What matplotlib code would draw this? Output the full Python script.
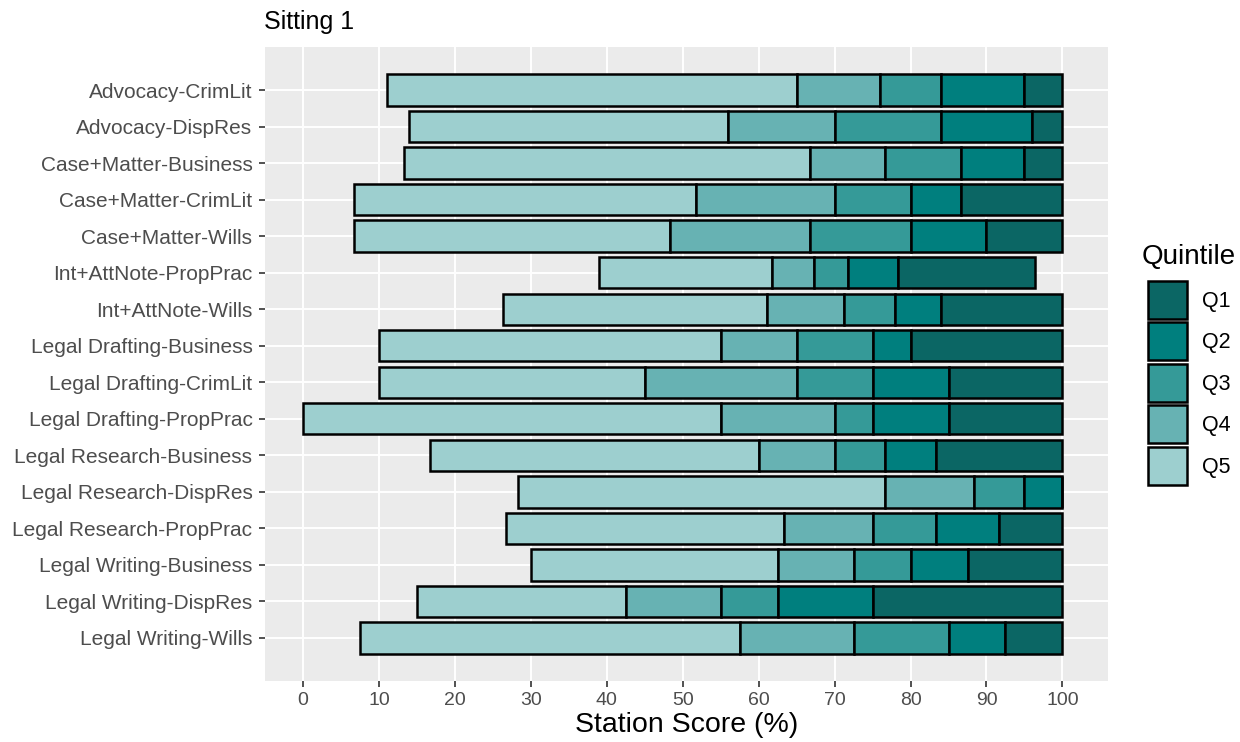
import numpy as np
from matplotlib import pyplot as plt
from matplotlib.patches import Patch

plt.rcParams["font.family"] = ["Liberation Sans", "DejaVu Sans"]

stations = [
    "Advocacy-CrimLit",
    "Advocacy-DispRes",
    "Case+Matter-Business",
    "Case+Matter-CrimLit",
    "Case+Matter-Wills",
    "Int+AttNote-PropPrac",
    "Int+AttNote-Wills",
    "Legal Drafting-Business",
    "Legal Drafting-CrimLit",
    "Legal Drafting-PropPrac",
    "Legal Research-Business",
    "Legal Research-DispRes",
    "Legal Research-PropPrac",
    "Legal Writing-Business",
    "Legal Writing-DispRes",
    "Legal Writing-Wills",
]

# quintile boundaries per station (min, Q5 top, Q4 top, Q3 top, Q2 top, max)
score_min = [11.0, 14.0, 13.3, 6.7, 6.7, 39.0, 26.3, 10.0, 10.0, 0.0, 16.7, 28.3, 26.7, 30.0, 15.0, 7.5]
q5_top = [65.0, 56.0, 66.7, 51.7, 48.3, 61.7, 61.1, 55.0, 45.0, 55.0, 60.0, 76.7, 63.3, 62.5, 42.5, 57.5]
q4_top = [76.0, 70.0, 76.7, 70.0, 66.7, 67.3, 71.3, 65.0, 65.0, 70.0, 70.0, 88.3, 75.0, 72.5, 55.0, 72.5]
q3_top = [84.0, 84.0, 86.7, 80.0, 80.0, 71.7, 78.0, 75.0, 75.0, 75.0, 76.7, 95.0, 83.3, 80.0, 62.5, 85.0]
q2_top = [95.0, 96.0, 95.0, 86.7, 90.0, 78.3, 84.0, 80.0, 85.0, 85.0, 83.3, 100.0, 91.7, 87.5, 75.0, 92.5]
score_max = [100.0, 100.0, 100.0, 100.0, 100.0, 96.4, 100.0, 100.0, 100.0, 100.0, 100.0, 100.0, 100.0, 100.0, 100.0, 100.0]

quintiles = ["Q1", "Q2", "Q3", "Q4", "Q5"]
colors = {"Q1": "#0b6664", "Q2": "#007f7e", "Q3": "#359a98", "Q4": "#67b2b3", "Q5": "#9dcfcf"}

W, H = 1240, 742
fig = plt.figure(figsize=(W / 100, H / 100), dpi=100)
ax = fig.add_axes([265 / W, 1 - 681 / H, (1108 - 265) / W, (681 - 47) / H])
ax.set_facecolor("#ebebeb")

y = np.arange(len(stations))
bounds = [score_min, q5_top, q4_top, q3_top, q2_top, score_max]
seg_names = ["Q5", "Q4", "Q3", "Q2", "Q1"]
for k, name in enumerate(seg_names):
    left = np.array(bounds[k])
    width = np.array(bounds[k + 1]) - left
    ax.barh(y, width, left=left, height=0.86, color=colors[name],
            edgecolor="black", linewidth=1.8, zorder=3)

ax.set_xlim(-5, 106)
ax.set_ylim(len(stations) - 1 + 1.18, -1.18)
ax.set_xticks(np.arange(0, 101, 10))
ax.set_yticks(y)
ax.set_yticklabels(stations)
ax.grid(True, color="white", linewidth=1.4, zorder=0)
ax.set_axisbelow(True)
for s in ax.spines.values():
    s.set_visible(False)
ax.tick_params(axis="both", colors="#333333", length=4, width=1.2,
               labelcolor="#4d4d4d")
ax.tick_params(axis="y", pad=5, labelsize=15)
ax.tick_params(axis="x", pad=4, labelsize=14)
ax.set_xlabel("Station Score (%)", fontsize=20.5, color="black", labelpad=2)

fig.text(264 / W, 1 - 29 / H, "Sitting 1", fontsize=18, va="baseline", ha="left")

# legend: title placed separately so the gap to the keys matches
fig.text(1142 / W, 1 - 257 / H, "Quintile", fontsize=20, va="center", ha="left")
handles = [Patch(facecolor=colors[q], edgecolor="black", linewidth=1.8, label=q)
           for q in quintiles]
leg = ax.legend(handles=handles, loc="upper left",
                bbox_to_anchor=(1148 / W, 1 - 281 / H), bbox_transform=fig.transFigure,
                frameon=False, fontsize=15.5, handlelength=1.81,
                handleheight=2.34, labelspacing=0.16, handletextpad=0.7,
                borderpad=0, borderaxespad=0)

plt.savefig("out.png", dpi=100)
